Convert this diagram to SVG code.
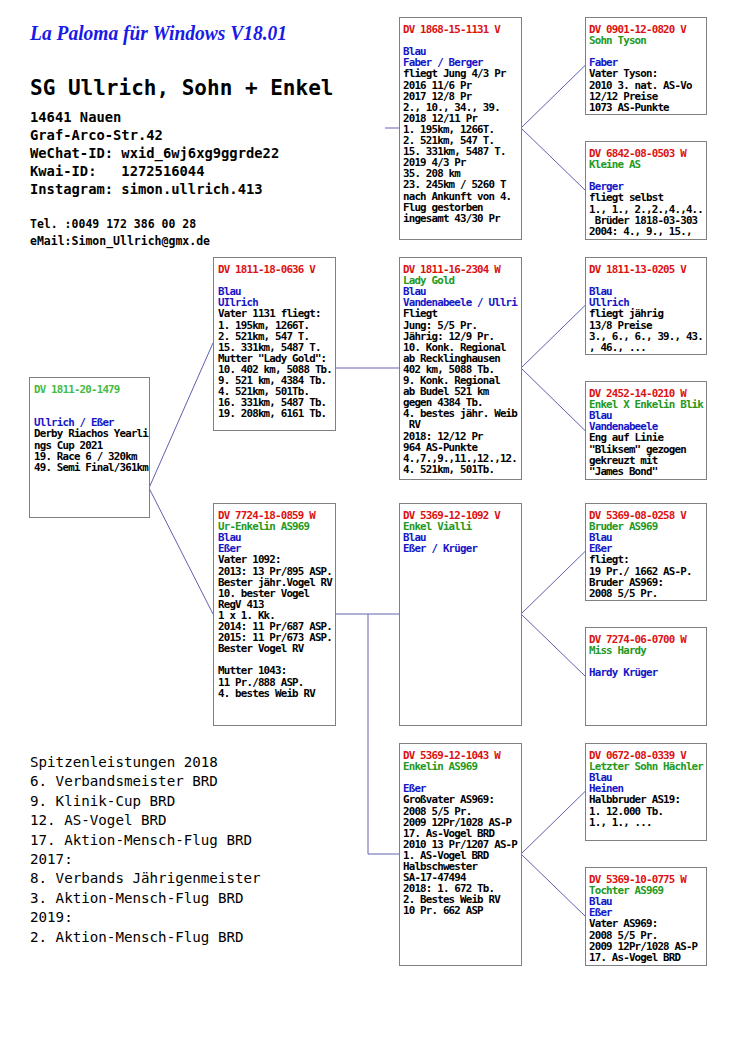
<svg xmlns="http://www.w3.org/2000/svg" width="750" height="1061" viewBox="0 0 750 1061">
<style>
text{white-space:pre}
.box{fill:#fff;stroke:#808080;stroke-width:1}
.t{font-family:"DejaVu Sans Mono","Liberation Mono",monospace;font-weight:bold;font-size:10.8px;letter-spacing:-0.8px;fill:#000}
.r{fill:#dd1111}
.g{fill:#229922}
.lg{fill:#44bb44}
.b{fill:#1515c8}
.c{fill:none;stroke:#6060b0;stroke-width:1}
.hd{font-family:"DejaVu Sans Mono","Liberation Mono",monospace;font-weight:bold;fill:#000}
.bt{font-family:"DejaVu Sans Mono","Liberation Mono",monospace;font-size:14.2px;fill:#000}
</style>
<rect width="750" height="1061" fill="#fff"/>
<g id="header">
<text x="30" y="40" font-family="'Liberation Serif',serif" font-style="italic" font-weight="bold" font-size="21" fill="#1a1ae6" textLength="257" lengthAdjust="spacingAndGlyphs">La Paloma für Windows V18.01</text>
<text class="hd" x="30" y="95" font-size="21">SG Ullrich, Sohn + Enkel</text>
<text class="hd" font-size="13.8" xml:space="preserve"><tspan x="30" y="122">14641 Nauen</tspan><tspan x="30" y="140">Graf-Arco-Str.42</tspan><tspan x="30" y="158">WeChat-ID: wxid_6wj6xg9ggrde22</tspan><tspan x="30" y="176">Kwai-ID:   1272516044</tspan><tspan x="30" y="194">Instagram: simon.ullrich.413</tspan></text>
<text class="hd" font-size="11.5"><tspan x="30" y="228">Tel. :0049 172 386 00 28</tspan><tspan x="30" y="245">eMail:Simon_Ullrich@gmx.de</tspan></text>
</g>
<g id="connectors">
<path class="c" d="M149,488 L213,343 M149,488 L213,614"/>
<path class="c" d="M335,368 L399,368 M385,128 L399,128"/>
<path class="c" d="M335,614 L399,614 M368,614 L368,854 L399,854"/>
<path class="c" d="M521,128 L585,65.5 M521,128 L585,190"/>
<path class="c" d="M521,368 L585,305.5 M521,368 L585,430.5"/>
<path class="c" d="M521,614 L585,551.5 M521,614 L585,676"/>
<path class="c" d="M521,854 L585,791.5 M521,854 L585,916"/>
</g>
<g id="n1">
<rect class="box" x="29.5" y="377.5" width="120" height="140"/>
<text class="t"><tspan x="34" y="393" class="lg">DV 1811-20-1479</tspan><tspan x="34" y="426.3" class="b">Ullrich / Eßer</tspan><tspan x="34" y="437.4">Derby Riachos Yearli</tspan><tspan x="34" y="448.5">ngs Cup 2021</tspan><tspan x="34" y="459.6">19. Race 6 / 320km</tspan><tspan x="34" y="470.7">49. Semi Final/361km</tspan></text>
</g>
<g id="n2">
<rect class="box" x="213.5" y="257.5" width="122" height="173"/>
<text class="t"><tspan x="218" y="273" class="r">DV 1811-18-0636 V</tspan><tspan x="218" y="295.2" class="b">Blau</tspan><tspan x="218" y="306.3" class="b">UIlrich</tspan><tspan x="218" y="317.4">Vater 1131 fliegt:</tspan><tspan x="218" y="328.5">1. 195km, 1266T.</tspan><tspan x="218" y="339.6">2. 521km, 547 T.</tspan><tspan x="218" y="350.7">15. 331km, 5487 T.</tspan><tspan x="218" y="361.8">Mutter "Lady Gold":</tspan><tspan x="218" y="372.9">10. 402 km, 5088 Tb.</tspan><tspan x="218" y="384">9. 521 km, 4384 Tb.</tspan><tspan x="218" y="395.1">4. 521km, 501Tb.</tspan><tspan x="218" y="406.2">16. 331km, 5487 Tb.</tspan><tspan x="218" y="417.3">19. 208km, 6161 Tb.</tspan></text>
</g>
<g id="n3">
<rect class="box" x="213.5" y="503.5" width="122" height="222"/>
<text class="t"><tspan x="218" y="519" class="r">DV 7724-18-0859 W</tspan><tspan x="218" y="530.1" class="g">Ur-Enkelin AS969</tspan><tspan x="218" y="541.2" class="b">Blau</tspan><tspan x="218" y="552.3" class="b">Eßer</tspan><tspan x="218" y="563.4">Vater 1092:</tspan><tspan x="218" y="574.5">2013: 13 Pr/895 ASP.</tspan><tspan x="218" y="585.6">Bester jähr.Vogel RV</tspan><tspan x="218" y="596.7">10. bester Vogel</tspan><tspan x="218" y="607.8">RegV 413</tspan><tspan x="218" y="618.9">1 x 1. Kk.</tspan><tspan x="218" y="630">2014: 11 Pr/687 ASP.</tspan><tspan x="218" y="641.1">2015: 11 Pr/673 ASP.</tspan><tspan x="218" y="652.2">Bester Vogel RV</tspan><tspan x="218" y="674.4">Mutter 1043:</tspan><tspan x="218" y="685.5">11 Pr./888 ASP.</tspan><tspan x="218" y="696.6">4. bestes Weib RV</tspan></text>
</g>
<g id="n4">
<rect class="box" x="399.5" y="17.5" width="122" height="222"/>
<text class="t"><tspan x="403" y="33" class="r">DV 1868-15-1131 V</tspan><tspan x="403" y="55.2" class="b">Blau</tspan><tspan x="403" y="66.3" class="b">Faber / Berger</tspan><tspan x="403" y="77.4">fliegt Jung 4/3 Pr</tspan><tspan x="403" y="88.5">2016 11/6 Pr</tspan><tspan x="403" y="99.6">2017 12/8 Pr</tspan><tspan x="403" y="110.7">2., 10., 34., 39.</tspan><tspan x="403" y="121.8">2018 12/11 Pr</tspan><tspan x="403" y="132.9">1. 195km, 1266T.</tspan><tspan x="403" y="144">2. 521km, 547 T.</tspan><tspan x="403" y="155.1">15. 331km, 5487 T.</tspan><tspan x="403" y="166.2">2019 4/3 Pr</tspan><tspan x="403" y="177.3">35. 208 km</tspan><tspan x="403" y="188.4">23. 245km / 5260 T</tspan><tspan x="403" y="199.5">nach Ankunft von 4.</tspan><tspan x="403" y="210.6">Flug gestorben</tspan><tspan x="403" y="221.7">ingesamt 43/30 Pr</tspan></text>
</g>
<g id="n5">
<rect class="box" x="399.5" y="257.5" width="122" height="222"/>
<text class="t"><tspan x="403" y="273" class="r">DV 1811-16-2304 W</tspan><tspan x="403" y="284.1" class="g">Lady Gold</tspan><tspan x="403" y="295.2" class="b">Blau</tspan><tspan x="403" y="306.3" class="b">Vandenabeele / Ullri</tspan><tspan x="403" y="317.4">Fliegt</tspan><tspan x="403" y="328.5">Jung: 5/5 Pr.</tspan><tspan x="403" y="339.6">Jährig: 12/9 Pr.</tspan><tspan x="403" y="350.7">10. Konk. Regional</tspan><tspan x="403" y="361.8">ab Recklinghausen</tspan><tspan x="403" y="372.9">402 km, 5088 Tb.</tspan><tspan x="403" y="384">9. Konk. Regional</tspan><tspan x="403" y="395.1">ab Budel 521 km</tspan><tspan x="403" y="406.2">gegen 4384 Tb.</tspan><tspan x="403" y="417.3">4. bestes jähr. Weib</tspan><tspan x="403" y="428.4"> RV</tspan><tspan x="403" y="439.5">2018: 12/12 Pr</tspan><tspan x="403" y="450.6">964 AS-Punkte</tspan><tspan x="403" y="461.7">4.,7.,9.,11.,12.,12.</tspan><tspan x="403" y="472.8">4. 521km, 501Tb.</tspan></text>
</g>
<g id="n6">
<rect class="box" x="399.5" y="503.5" width="122" height="222"/>
<text class="t"><tspan x="403" y="519" class="r">DV 5369-12-1092 V</tspan><tspan x="403" y="530.1" class="g">Enkel Vialli</tspan><tspan x="403" y="541.2" class="b">Blau</tspan><tspan x="403" y="552.3" class="b">Eßer / Krüger</tspan></text>
</g>
<g id="n7">
<rect class="box" x="399.5" y="743.5" width="122" height="222"/>
<text class="t"><tspan x="403" y="759" class="r">DV 5369-12-1043 W</tspan><tspan x="403" y="770.1" class="g">Enkelin AS969</tspan><tspan x="403" y="792.3" class="b">Eßer</tspan><tspan x="403" y="803.4">Großvater AS969:</tspan><tspan x="403" y="814.5">2008 5/5 Pr.</tspan><tspan x="403" y="825.6">2009 12Pr/1028 AS-P</tspan><tspan x="403" y="836.7">17. As-Vogel BRD</tspan><tspan x="403" y="847.8">2010 13 Pr/1207 AS-P</tspan><tspan x="403" y="858.9">1. AS-Vogel BRD</tspan><tspan x="403" y="870">Halbschwester</tspan><tspan x="403" y="881.1">SA-17-47494</tspan><tspan x="403" y="892.2">2018: 1. 672 Tb.</tspan><tspan x="403" y="903.3">2. Bestes Weib RV</tspan><tspan x="403" y="914.4">10 Pr. 662 ASP</tspan></text>
</g>
<g id="n8">
<rect class="box" x="585.5" y="17.5" width="121" height="97"/>
<text class="t"><tspan x="589" y="33" class="r">DV 0901-12-0820 V</tspan><tspan x="589" y="44.1" class="g">Sohn Tyson</tspan><tspan x="589" y="66.3" class="b">Faber</tspan><tspan x="589" y="77.4">Vater Tyson:</tspan><tspan x="589" y="88.5">2010 3. nat. AS-Vo</tspan><tspan x="589" y="99.6">12/12 Preise</tspan><tspan x="589" y="110.7">1073 AS-Punkte</tspan></text>
</g>
<g id="n9">
<rect class="box" x="585.5" y="141.5" width="121" height="98"/>
<text class="t"><tspan x="589" y="157" class="r">DV 6842-08-0503 W</tspan><tspan x="589" y="168.1" class="g">Kleine AS</tspan><tspan x="589" y="190.3" class="b">Berger</tspan><tspan x="589" y="201.4">fliegt selbst</tspan><tspan x="589" y="212.5">1., 1., 2.,2.,4.,4..</tspan><tspan x="589" y="223.6"> Brüder 1818-03-303</tspan><tspan x="589" y="234.7">2004: 4., 9., 15.,</tspan></text>
</g>
<g id="n10">
<rect class="box" x="585.5" y="257.5" width="121" height="97"/>
<text class="t"><tspan x="589" y="273" class="r">DV 1811-13-0205 V</tspan><tspan x="589" y="295.2" class="b">Blau</tspan><tspan x="589" y="306.3" class="b">Ullrich</tspan><tspan x="589" y="317.4">fliegt jährig</tspan><tspan x="589" y="328.5">13/8 Preise</tspan><tspan x="589" y="339.6">3., 6., 6., 39., 43.</tspan><tspan x="589" y="350.7">, 46., ...</tspan></text>
</g>
<g id="n11">
<rect class="box" x="585.5" y="381.5" width="121" height="98"/>
<text class="t"><tspan x="589" y="397" class="r">DV 2452-14-0210 W</tspan><tspan x="589" y="408.1" class="g">Enkel X Enkelin Blik</tspan><tspan x="589" y="419.2" class="b">Blau</tspan><tspan x="589" y="430.3" class="b">Vandenabeele</tspan><tspan x="589" y="441.4">Eng auf Linie</tspan><tspan x="589" y="452.5">"Bliksem" gezogen</tspan><tspan x="589" y="463.6">gekreuzt mit</tspan><tspan x="589" y="474.7">"James Bond"</tspan></text>
</g>
<g id="n12">
<rect class="box" x="585.5" y="503.5" width="121" height="97"/>
<text class="t"><tspan x="589" y="519" class="r">DV 5369-08-0258 V</tspan><tspan x="589" y="530.1" class="g">Bruder AS969</tspan><tspan x="589" y="541.2" class="b">Blau</tspan><tspan x="589" y="552.3" class="b">Eßer</tspan><tspan x="589" y="563.4">fliegt:</tspan><tspan x="589" y="574.5">19 Pr./ 1662 AS-P.</tspan><tspan x="589" y="585.6">Bruder AS969:</tspan><tspan x="589" y="596.7">2008 5/5 Pr.</tspan></text>
</g>
<g id="n13">
<rect class="box" x="585.5" y="627.5" width="121" height="98"/>
<text class="t"><tspan x="589" y="643" class="r">DV 7274-06-0700 W</tspan><tspan x="589" y="654.1" class="g">Miss Hardy</tspan><tspan x="589" y="676.3" class="b">Hardy Krüger</tspan></text>
</g>
<g id="n14">
<rect class="box" x="585.5" y="743.5" width="121" height="97"/>
<text class="t"><tspan x="589" y="759" class="r">DV 0672-08-0339 V</tspan><tspan x="589" y="770.1" class="g">Letzter Sohn Hächler</tspan><tspan x="589" y="781.2" class="b">Blau</tspan><tspan x="589" y="792.3" class="b">Heinen</tspan><tspan x="589" y="803.4">Halbbruder AS19:</tspan><tspan x="589" y="814.5">1. 12.000 Tb.</tspan><tspan x="589" y="825.6">1., 1., ...</tspan></text>
</g>
<g id="n15">
<rect class="box" x="585.5" y="867.5" width="121" height="98"/>
<text class="t"><tspan x="589" y="883" class="r">DV 5369-10-0775 W</tspan><tspan x="589" y="894.1" class="g">Tochter AS969</tspan><tspan x="589" y="905.2" class="b">Blau</tspan><tspan x="589" y="916.3" class="b">Eßer</tspan><tspan x="589" y="927.4">Vater AS969:</tspan><tspan x="589" y="938.5">2008 5/5 Pr.</tspan><tspan x="589" y="949.6">2009 12Pr/1028 AS-P</tspan><tspan x="589" y="960.7">17. As-Vogel BRD</tspan></text>
</g>
<g id="footer">
<text class="bt"><tspan x="30" y="767">Spitzenleistungen 2018</tspan><tspan x="30" y="786.4">6. Verbandsmeister BRD</tspan><tspan x="30" y="805.8">9. Klinik-Cup BRD</tspan><tspan x="30" y="825.2">12. AS-Vogel BRD</tspan><tspan x="30" y="844.6">17. Aktion-Mensch-Flug BRD</tspan><tspan x="30" y="864">2017:</tspan><tspan x="30" y="883.4">8. Verbands Jährigenmeister</tspan><tspan x="30" y="902.8">3. Aktion-Mensch-Flug BRD</tspan><tspan x="30" y="922.2">2019:</tspan><tspan x="30" y="941.6">2. Aktion-Mensch-Flug BRD</tspan></text>
</g>
</svg>
